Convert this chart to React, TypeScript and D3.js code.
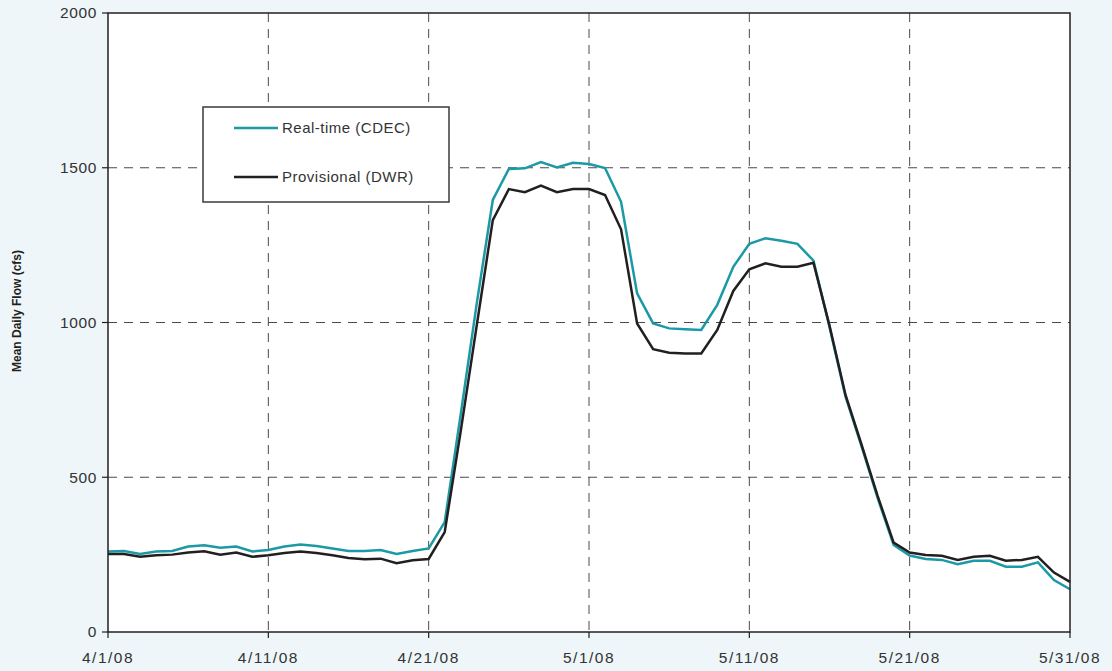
import React from "react";
import * as d3 from "d3";

// daily values 4/1/08 .. 5/31/08
const startDate = new Date(2008, 3, 1);

const realTime = [
  260, 262, 252, 260, 262, 276, 280, 272, 276, 260,
  265, 276, 283, 278, 270, 262, 262, 265, 252, 262,
  270, 355, 704, 1062, 1396, 1496, 1498, 1518, 1501, 1516,
  1512, 1499, 1390, 1094, 997, 981, 978, 976, 1057, 1180,
  1254, 1272, 1264, 1254, 1200, 986, 760, 600, 433, 281,
  247, 236, 233, 219, 230, 230, 211, 211, 225, 168, 138,
];

const provisional = [
  252, 252, 243, 248, 250, 257, 261, 250, 257, 243,
  248, 255, 260, 255, 248, 239, 235, 237, 222, 232,
  236, 323, 649, 991, 1331, 1431, 1421, 1442, 1421, 1431,
  1431, 1412, 1301, 997, 914, 902, 900, 900, 976, 1102,
  1172, 1191, 1180, 1180, 1193, 990, 766, 605, 440, 289,
  257, 249, 246, 233, 243, 246, 230, 233, 243, 192, 162,
];

const yTicks = [0, 500, 1000, 1500, 2000];
const xTickLabels = ["4/1/08", "4/11/08", "4/21/08", "5/1/08", "5/11/08", "5/21/08", "5/31/08"];

const seriesList = [
  { name: "Real-time (CDEC)", values: realTime, color: "#1b9aa5" },
  { name: "Provisional (DWR)", values: provisional, color: "#231f20" },
];

const W = 1112;
const H = 671;
const margin = { top: 13, right: 42, bottom: 39, left: 108 };

const App = () => {
  const innerW = W - margin.left - margin.right;
  const innerH = H - margin.top - margin.bottom;

  const dayMs = 24 * 3600 * 1000;
  const dateOf = (i: number) => new Date(startDate.getTime() + i * dayMs);

  const xScale = d3
    .scaleTime()
    .domain([startDate, dateOf(60)])
    .range([0, innerW]);

  const yScale = d3.scaleLinear().domain([0, 2000]).range([innerH, 0]);

  const xTicks = xTickLabels.map((_, i) => dateOf(i * 10));

  const line = d3
    .line<number>()
    .x((_, i) => xScale(dateOf(i)))
    .y((d) => yScale(d));

  const font = "'Liberation Sans', Arial, sans-serif";

  return (
    <svg
      width={W}
      height={H}
      style={{ position: "absolute", left: 0, top: 0, display: "block" }}
    >
      <rect width={W} height={H} fill="#eef6f9" />
      <g transform={`translate(${margin.left},${margin.top})`}>
        <rect width={innerW} height={innerH} fill="#ffffff" />

        {/* grid */}
        {yTicks.slice(1, -1).map((t) => (
          <line
            key={"gy" + t}
            x1={0}
            x2={innerW}
            y1={yScale(t)}
            y2={yScale(t)}
            stroke="#4a4a4a"
            strokeWidth={1}
            strokeDasharray="9,7"
          />
        ))}
        {xTicks.slice(1, -1).map((t, i) => (
          <line
            key={"gx" + i}
            x1={xScale(t)}
            x2={xScale(t)}
            y1={0}
            y2={innerH}
            stroke="#4a4a4a"
            strokeWidth={1}
            strokeDasharray="9,7"
          />
        ))}

        {/* legend */}
        <g transform="translate(95,94)">
          <rect
            width={246}
            height={95}
            fill="#ffffff"
            stroke="#3a3a3a"
            strokeWidth={1.5}
          />
          {seriesList.map((s, i) => (
            <g key={s.name} transform={`translate(0,${21 + i * 49})`}>
              <line x1={31} x2={75} y1={0} y2={0} stroke={s.color} strokeWidth={2.5} />
              <text
                x={79}
                y={5}
                fontFamily={font}
                fontSize={15}
                letterSpacing={0.5}
                fill="#333"
              >
                {s.name}
              </text>
            </g>
          ))}
        </g>

        {/* series */}
        {seriesList.map((s) => (
          <path
            key={s.name}
            d={line(s.values) || ""}
            fill="none"
            stroke={s.color}
            strokeWidth={2.5}
            strokeLinejoin="miter"
          />
        ))}

        {/* frame */}
        <rect width={innerW} height={innerH} fill="none" stroke="#231f20" strokeWidth={1.5} />

        {/* y axis */}
        {yTicks.map((t) => (
          <g key={"yt" + t} transform={`translate(0,${yScale(t)})`}>
            <line x1={-6} x2={0} stroke="#231f20" strokeWidth={1.2} />
            <text
              x={-11}
              dy="0.35em"
              textAnchor="end"
              fontFamily={font}
              fontSize={15.5}
              letterSpacing={0.6}
              fill="#333"
            >
              {t}
            </text>
          </g>
        ))}

        {/* x axis */}
        {xTicks.map((t, i) => (
          <g key={"xt" + i} transform={`translate(${xScale(t)},${innerH})`}>
            <line y1={0} y2={6} stroke="#231f20" strokeWidth={1.2} />
            <text
              y={31}
              textAnchor="middle"
              fontFamily={font}
              fontSize={15.5}
              letterSpacing={1.5}
              fill="#333"
            >
              {xTickLabels[i]}
            </text>
          </g>
        ))}
      </g>

      <text
        transform={`translate(21,311) rotate(-90)`}
        textAnchor="middle"
        fontFamily={font}
        fontSize={12}
        fontWeight="bold"
        fill="#231f20"
      >
        Mean Daily Flow (cfs)
      </text>
    </svg>
  );
};

export default App;
